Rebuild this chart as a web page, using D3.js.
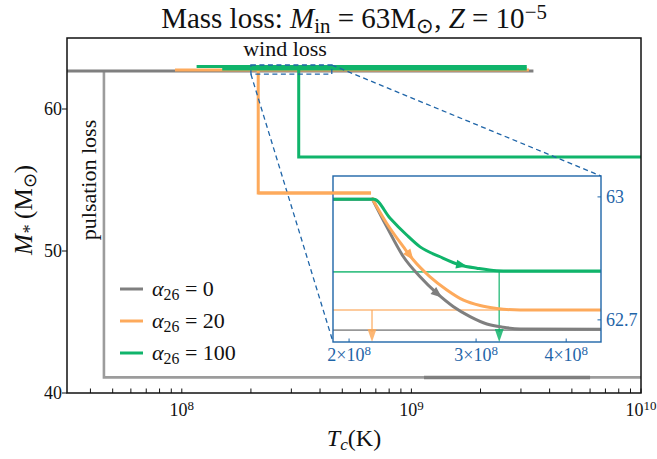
<!DOCTYPE html>
<html><head><meta charset="utf-8">
<script src="https://cdn.jsdelivr.net/npm/d3@7"></script>
<style>body{margin:0;background:#fff}svg{display:block}text{font-family:"Liberation Serif","Times New Roman",serif;fill:#111}</style>
</head><body><svg id="c" width="657" height="459"></svg>
<script>
// ---------- data ----------
const xTicksMajor = [1e8, 1e9, 1e10];
const xTickExp = ["8", "9", "10"];
const yTicks = [40, 50, 60];
const legendLabels = ["0", "20", "100"];
const colors = {gray: "#7f7f7f", grayLight: "#9c9c9c", orange: "#fdaa5c", green: "#10b46b", blue: "#1f65a8"};

// main panel series  [Tc (K), M (Msun)]
const grayTop    = [[3.1623e7, 62.68], [3.4e9, 62.68]];
const grayPulse  = [[4.58e7, 62.68], [4.58e7, 41.1], [1e10, 41.1]];
const grayBand   = [[1.135e9, 41.1], [6.0e9, 41.1]];
const orangeTop  = [[9.34e7, 62.74], [3.25e9, 62.74]];
const orangeDrop = [[2.152e8, 62.74], [2.152e8, 54.08], [6.67e8, 54.08]];
const greenTop   = [[1.16e8, 63.0], [3.18e9, 63.0]];
const greenTop2  = [[1.50e8, 62.82], [3.18e9, 62.82]];
const greenDrop  = [[3.23e8, 62.82], [3.23e8, 56.62], [1e10, 56.62]];
const zoomBox    = {x0: 2.0e8, x1: 4.5e8, y0: 62.45, y1: 63.1};

// inset series
const insetXTicks = [2e8, 3e8, 4e8];
const insetXLabels = ["2", "3", "4"];
const insetYTicks = [63, 62.7];
const insetYLabels = ["63", "62.7"];
const insetGrayFlat = [[1.9e8, 62.994], [2.16e8, 62.994]];
const insetGreen = [[1.9e8, 62.994], [2.166e8, 62.994], [2.28e8, 62.948], [2.404e8, 62.907], [2.509e8, 62.878], [2.674e8, 62.854], [2.851e8, 62.834], [3.007e8, 62.826], [3.205e8, 62.820], [3.6e8, 62.819], [4.48e8, 62.819]];
const insetGray = [[2.150e8, 62.998], [2.256e8, 62.927], [2.379e8, 62.854], [2.509e8, 62.805], [2.646e8, 62.765], [2.791e8, 62.732], [2.943e8, 62.708], [3.105e8, 62.690], [3.273e8, 62.682], [3.453e8, 62.678], [4.48e8, 62.677]];
const insetOrange = [[2.150e8, 62.998], [2.256e8, 62.935], [2.379e8, 62.878], [2.456e8, 62.846], [2.590e8, 62.805], [2.733e8, 62.773], [2.882e8, 62.748], [3.039e8, 62.735], [3.205e8, 62.728], [3.453e8, 62.724], [4.48e8, 62.724]];
const insetLevels = [{m: 62.675, drop: null, c: "gray"}, {m: 62.724, drop: 2.152e8, c: "orange"}, {m: 62.817, drop: 3.23e8, c: "green"}];
const curveArrows = [{s: insetGray, t: 2.69e8, c: "gray"}, {s: insetOrange, t: 2.456e8, c: "orange"}, {s: insetGreen, t: 2.915e8, c: "green"}];

// ---------- layout ----------
const svg = d3.select("#c");
const L = 67, R = 641, T = 38, B = 393;
const x = d3.scaleLog().domain([Math.pow(10, 7.5), 1e10]).range([L, R]);
const y = d3.scaleLinear().domain([40, 65]).range([B, T]);
const IL = 333, IR = 601, IT = 176, IB = 342;
const ix = d3.scaleLog().domain([1.9e8, 4.47e8]).range([IL, IR]);
const iy = d3.scaleLinear().domain([62.646, 63.051]).range([IB, IT]);

function rich(sel, parts) {
  parts.forEach(p => {
    const ts = sel.append("tspan").text(p.t);
    if (p.i) ts.attr("font-style", "italic");
    if (p.sub) ts.attr("baseline-shift", "-22%").attr("font-size", "0.72em");
    if (p.sup) ts.attr("baseline-shift", "45%").attr("font-size", "0.72em");
  });
  return sel;
}

svg.append("clipPath").attr("id", "clip").append("rect").attr("x", L).attr("y", T).attr("width", R - L).attr("height", B - T);
const plot = svg.append("g").attr("clip-path", "url(#clip)");
const line = d3.line().x(d => x(d[0])).y(d => y(d[1]));

// main lines
plot.append("path").attr("d", line(grayPulse)).attr("fill", "none").attr("stroke", colors.grayLight).attr("stroke-width", 2.6);
plot.append("path").attr("d", line(grayBand)).attr("fill", "none").attr("stroke", colors.gray).attr("stroke-width", 3.5);
plot.append("path").attr("d", line(grayTop)).attr("fill", "none").attr("stroke", colors.gray).attr("stroke-width", 3);
plot.append("path").attr("d", line(orangeTop)).attr("fill", "none").attr("stroke", colors.orange).attr("stroke-width", 3);
plot.append("path").attr("d", line(orangeDrop)).attr("fill", "none").attr("stroke", colors.orange).attr("stroke-width", 3);
plot.append("path").attr("d", line(greenTop)).attr("fill", "none").attr("stroke", colors.green).attr("stroke-width", 3);
plot.append("path").attr("d", line(greenTop2)).attr("fill", "none").attr("stroke", colors.green).attr("stroke-width", 3);
plot.append("path").attr("d", line(greenDrop)).attr("fill", "none").attr("stroke", colors.green).attr("stroke-width", 3);

// zoom box + connectors
const bx0 = x(zoomBox.x0), bx1 = x(zoomBox.x1), by0 = y(zoomBox.y0), by1 = y(zoomBox.y1);
svg.append("rect").attr("x", bx0).attr("y", by1).attr("width", bx1 - bx0).attr("height", by0 - by1)
  .attr("fill", "none").attr("stroke", colors.blue).attr("stroke-width", 1.3).attr("stroke-dasharray", "5,3.5");
svg.append("line").attr("x1", bx0).attr("y1", by0).attr("x2", IL).attr("y2", IB)
  .attr("stroke", colors.blue).attr("stroke-width", 1.3).attr("stroke-dasharray", "5,3.5");
svg.append("line").attr("x1", bx1).attr("y1", by1).attr("x2", IR).attr("y2", IT)
  .attr("stroke", colors.blue).attr("stroke-width", 1.3).attr("stroke-dasharray", "5,3.5");

// inset
const inset = svg.append("g");
inset.append("clipPath").attr("id", "iclip").append("rect").attr("x", IL).attr("y", IT).attr("width", IR - IL).attr("height", IB - IT);
const ig = inset.append("g").attr("clip-path", "url(#iclip)");
const iline = d3.line().x(d => ix(d[0])).y(d => iy(d[1])).curve(d3.curveMonotoneX);
insetLevels.forEach(lv => {
  ig.append("line").attr("x1", IL).attr("x2", IR).attr("y1", iy(lv.m)).attr("y2", iy(lv.m))
    .attr("stroke", colors[lv.c]).attr("stroke-width", 1.6).attr("opacity", 0.8);
  if (lv.drop) {
    const xx = ix(lv.drop);
    ig.append("line").attr("x1", xx).attr("x2", xx).attr("y1", iy(lv.m)).attr("y2", IB - 10)
      .attr("stroke", colors[lv.c]).attr("stroke-width", 1.6).attr("opacity", 0.75);
    ig.append("path").attr("d", `M${xx - 4.5},${IB - 13}L${xx + 4.5},${IB - 13}L${xx},${IB}Z`)
      .attr("fill", colors[lv.c]).attr("opacity", 0.85);
  }
});
ig.append("path").attr("d", iline(insetGrayFlat)).attr("fill", "none").attr("stroke", colors.gray).attr("stroke-width", 3);
ig.append("path").attr("d", iline(insetGray)).attr("fill", "none").attr("stroke", colors.gray).attr("stroke-width", 3);
ig.append("path").attr("d", iline(insetOrange)).attr("fill", "none").attr("stroke", colors.orange).attr("stroke-width", 3);
ig.append("path").attr("d", iline(insetGreen)).attr("fill", "none").attr("stroke", colors.green).attr("stroke-width", 3);
curveArrows.forEach(a => {
  const px = ix(a.t);
  const pts = a.s.map(d => [ix(d[0]), iy(d[1])]);
  let k = 0; while (k < pts.length - 2 && pts[k + 1][0] < px) k++;
  const p0 = pts[k], p1 = pts[k + 1];
  const f = (px - p0[0]) / (p1[0] - p0[0]);
  const py = p0[1] + f * (p1[1] - p0[1]);
  const ang = Math.atan2(p1[1] - p0[1], p1[0] - p0[0]) * 180 / Math.PI;
  ig.append("path").attr("d", "M-11,-4.5L0,0L-11,4.5Z").attr("fill", colors[a.c])
    .attr("transform", `translate(${px},${py}) rotate(${ang})`);
});
inset.append("rect").attr("x", IL).attr("y", IT).attr("width", IR - IL).attr("height", IB - IT)
  .attr("fill", "none").attr("stroke", colors.blue).attr("stroke-width", 1.4);
insetXTicks.forEach((t, i) => {
  inset.append("line").attr("x1", ix(t)).attr("x2", ix(t)).attr("y1", IB).attr("y2", IB - 3.5).attr("stroke", colors.blue).attr("stroke-width", 1);
  const tx = inset.append("text").attr("x", ix(t)).attr("y", IB + 19).attr("text-anchor", "middle").attr("font-size", 18).style("fill", colors.blue);
  rich(tx, [{t: insetXLabels[i] + "×10"}, {t: "8", sup: true}]);
});
insetYTicks.forEach((t, i) => {
  inset.append("line").attr("x1", IR).attr("x2", IR - 3.5).attr("y1", iy(t)).attr("y2", iy(t)).attr("stroke", colors.blue).attr("stroke-width", 1);
  inset.append("text").attr("x", IR + 5).attr("y", iy(t) + 6).attr("font-size", 18).style("fill", colors.blue).text(insetYLabels[i]);
});

// orange high-state segment passes over inset
svg.append("path").attr("d", line(orangeDrop.slice(1))).attr("fill", "none").attr("stroke", colors.orange).attr("stroke-width", 3);

// axes frame
svg.append("rect").attr("x", L).attr("y", T).attr("width", R - L).attr("height", B - T)
  .attr("fill", "none").attr("stroke", "#111").attr("stroke-width", 1.5);

// x ticks (inward)
const minor = [];
for (let e = 7; e <= 9; e++) for (let m = 2; m <= 9; m++) { const v = m * Math.pow(10, e); if (v > x.domain()[0] && v < 1e10) minor.push(v); }
minor.concat(xTicksMajor).forEach(v => {
  svg.append("line").attr("x1", x(v)).attr("x2", x(v)).attr("y1", B).attr("y2", B - 4.5).attr("stroke", "#111").attr("stroke-width", 1);
});
xTicksMajor.forEach((v, i) => {
  const tx = svg.append("text").attr("x", x(v)).attr("y", B + 23).attr("text-anchor", "middle").attr("font-size", 18);
  rich(tx, [{t: "10"}, {t: xTickExp[i], sup: true}]);
});
// y ticks (outward)
yTicks.forEach(v => {
  svg.append("line").attr("x1", L).attr("x2", L - 5).attr("y1", y(v)).attr("y2", y(v)).attr("stroke", "#111").attr("stroke-width", 1);
  svg.append("text").attr("x", L - 5).attr("y", y(v) + 6).attr("text-anchor", "end").attr("font-size", 18).text(v);
});

// labels
rich(svg.append("text").attr("x", 354).attr("y", 28).attr("text-anchor", "middle").attr("font-size", 29),
  [{t: "Mass loss: "}, {t: "M", i: true}, {t: "in", sub: true}, {t: " = 63M"}, {t: "⊙", sub: true}, {t: ", "}, {t: "Z", i: true}, {t: " = 10"}, {t: "−5", sup: true}]);
rich(svg.append("text").attr("x", 354).attr("y", 446).attr("text-anchor", "middle").attr("font-size", 24),
  [{t: "T", i: true}, {t: "c", i: true, sub: true}, {t: "(K)"}]);
rich(svg.append("text").attr("transform", "translate(32,210) rotate(-90)").attr("text-anchor", "middle").attr("font-size", 25),
  [{t: "M", i: true}, {t: "*", i: true, sub: true}, {t: " (M"}, {t: "⊙", sub: true}, {t: ")"}]);
svg.append("text").attr("x", 285).attr("y", 56).attr("text-anchor", "middle").attr("font-size", 22).text("wind loss");
svg.append("text").attr("transform", "translate(96,180) rotate(-90)").attr("text-anchor", "middle").attr("font-size", 22).text("pulsation loss");

// legend
const legColors = [colors.gray, colors.orange, colors.green];
legendLabels.forEach((lab, i) => {
  const yy = 289 + i * 32;
  svg.append("line").attr("x1", 120).attr("x2", 143).attr("y1", yy).attr("y2", yy).attr("stroke", legColors[i]).attr("stroke-width", 3);
  rich(svg.append("text").attr("x", 152).attr("y", yy + 7).attr("font-size", 22),
    [{t: "α", i: true}, {t: "26", sub: true}, {t: " = " + lab}]);
});
</script></body></html>
